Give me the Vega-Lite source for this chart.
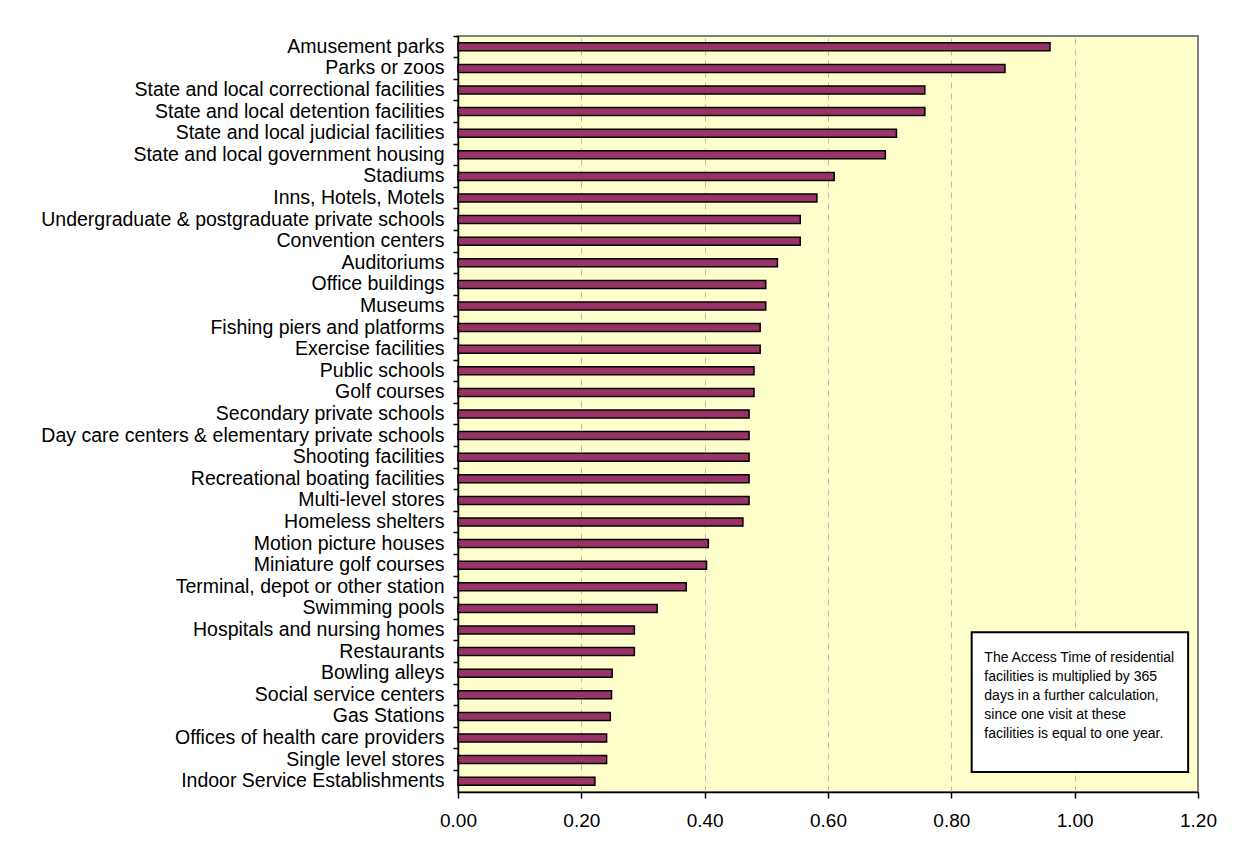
{
  "$schema": "https://vega.github.io/schema/vega-lite/v6.json",
  "width": 740,
  "height": 756,
  "autosize": {"type": "none"},
  "padding": {"left": 458, "top": 36, "right": 43, "bottom": 63},
  "background": "white",
  "config": {
    "view": {"fill": "#FFFFCC", "stroke": "#808080", "strokeWidth": 2},
    "font": "Liberation Sans"
  },
  "datasets": {
    "bars": [
      {"facility": "Amusement parks", "time": 0.96},
      {"facility": "Parks or zoos", "time": 0.887},
      {"facility": "State and local correctional facilities", "time": 0.757},
      {"facility": "State and local detention facilities", "time": 0.757},
      {"facility": "State and local judicial facilities", "time": 0.711},
      {"facility": "State and local government housing\u00a0", "time": 0.693},
      {"facility": "Stadiums", "time": 0.61},
      {"facility": "Inns, Hotels, Motels", "time": 0.582},
      {"facility": "Undergraduate & postgraduate private schools", "time": 0.555},
      {"facility": "Convention centers", "time": 0.555},
      {"facility": "Auditoriums", "time": 0.518},
      {"facility": "Office buildings", "time": 0.499},
      {"facility": "Museums", "time": 0.499},
      {"facility": "Fishing piers and platforms", "time": 0.49},
      {"facility": "Exercise facilities", "time": 0.49},
      {"facility": "Public schools", "time": 0.48},
      {"facility": "Golf courses", "time": 0.48},
      {"facility": "Secondary private schools", "time": 0.472},
      {"facility": "Day care centers & elementary private schools", "time": 0.472},
      {"facility": "Shooting facilities", "time": 0.472},
      {"facility": "Recreational boating facilities", "time": 0.472},
      {"facility": "Multi-level stores", "time": 0.472},
      {"facility": "Homeless shelters", "time": 0.462},
      {"facility": "Motion picture houses", "time": 0.406},
      {"facility": "Miniature golf courses", "time": 0.403},
      {"facility": "Terminal, depot or other station", "time": 0.37},
      {"facility": "Swimming pools", "time": 0.323},
      {"facility": "Hospitals and nursing homes", "time": 0.286},
      {"facility": "Restaurants", "time": 0.286},
      {"facility": "Bowling alleys", "time": 0.25},
      {"facility": "Social service centers", "time": 0.249},
      {"facility": "Gas Stations", "time": 0.247},
      {"facility": "Offices of health care providers", "time": 0.241},
      {"facility": "Single level stores", "time": 0.241},
      {"facility": "Indoor Service Establishments", "time": 0.222}
    ],
    "note": [
      {"x": 0.833, "x2": 1.184, "y": 27.6, "y2": 34.07, "tx": 0.8535, "ty": 28.45,
       "label": "The Access Time of residential\nfacilities  is multiplied by 365\ndays in a further calculation,\nsince one visit at these\nfacilities is equal to one year."}
    ]
  },
  "layer": [
    {
      "data": {"name": "bars"},
      "mark": {"type": "bar", "fill": "#993366", "stroke": "#000000", "strokeWidth": 1.5, "size": 8},
      "encoding": {
        "y": {
          "field": "facility", "type": "nominal", "sort": null,
          "scale": {"paddingInner": 0, "paddingOuter": 0},
          "axis": {
            "title": null, "bandPosition": 0, "domainColor": "#000000", "domainWidth": 1.5,
            "tickColor": "#000000", "tickSize": 5, "tickWidth": 1.5, "labelPadding": 9,
            "labelFont": "Liberation Sans", "labelFontSize": 19.5, "labelColor": "#000000",
            "labelLimit": 600, "grid": false
          }
        },
        "x": {
          "field": "time", "type": "quantitative",
          "scale": {"domain": [0, 1.2], "nice": false, "zero": true},
          "axis": {
            "title": null, "values": [0, 0.2, 0.4, 0.6, 0.8, 1.0, 1.2], "format": ".2f",
            "domainColor": "#000000", "domainWidth": 1.5, "tickColor": "#000000", "tickSize": 6,
            "tickWidth": 1.5, "labelPadding": 13, "labelFont": "Liberation Sans",
            "labelFontSize": 19, "labelColor": "#000000", "labelFlush": false,
            "grid": true, "gridColor": "#BBBBBB", "gridWidth": 1, "gridDash": [6, 5],
            "gridOpacity": {"condition": {"test": "datum.value <= 0 || datum.value >= 1.2", "value": 0}, "value": 1}
          }
        }
      }
    },
    {
      "data": {"name": "note"},
      "layer": [
        {
          "mark": {"type": "rect", "fill": "#FFFFFF", "stroke": "#000000", "strokeWidth": 2},
          "encoding": {
            "x": {"field": "x", "type": "quantitative"},
            "x2": {"field": "x2"},
            "y": {"field": "y", "type": "quantitative", "scale": {"domain": [0, 35], "reverse": true, "nice": false, "zero": false}, "axis": null},
            "y2": {"field": "y2"}
          }
        },
        {
          "mark": {"type": "text", "align": "left", "baseline": "top", "lineBreak": "\n", "lineHeight": 19,
                   "font": "Liberation Sans", "fontSize": 14, "color": "#000000"},
          "encoding": {
            "x": {"field": "tx", "type": "quantitative"},
            "y": {"field": "ty", "type": "quantitative", "scale": {"domain": [0, 35], "reverse": true, "nice": false, "zero": false}, "axis": null},
            "text": {"field": "label"}
          }
        }
      ]
    }
  ],
  "resolve": {"scale": {"y": "independent"}, "axis": {"y": "independent"}}
}
